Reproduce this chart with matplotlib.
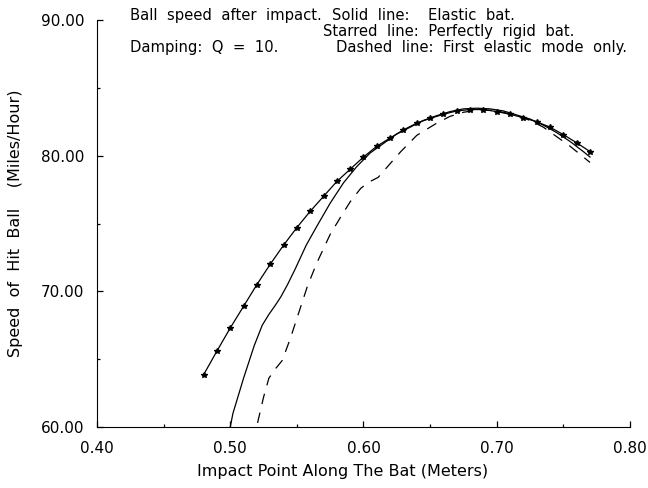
import matplotlib
matplotlib.use("Agg")
import matplotlib.pyplot as plt
from matplotlib.ticker import MultipleLocator, FormatStrFormatter

# Starred line: perfectly rigid bat
rigid_x = [0.48, 0.49, 0.50, 0.51, 0.52, 0.53, 0.54, 0.55, 0.56, 0.57,
           0.58, 0.59, 0.60, 0.61, 0.62, 0.63, 0.64, 0.65, 0.66, 0.67,
           0.68, 0.69, 0.70, 0.71, 0.72, 0.73, 0.74, 0.75, 0.76, 0.77]
rigid_y = [63.85, 65.6, 67.3, 68.9, 70.5, 72.0, 73.4, 74.7, 75.9, 77.0,
           78.1, 79.0, 79.9, 80.7, 81.3, 81.9, 82.4, 82.75, 83.05, 83.3,
           83.4, 83.4, 83.25, 83.05, 82.8, 82.5, 82.1, 81.55, 80.95, 80.3]

# Solid line: elastic bat
elastic_x = [0.500, 0.502, 0.510, 0.518, 0.524, 0.529, 0.534, 0.538, 0.543,
             0.549, 0.557, 0.565, 0.575, 0.585, 0.595, 0.605, 0.615, 0.625,
             0.635, 0.645, 0.655, 0.665, 0.675, 0.685, 0.695, 0.705, 0.715,
             0.725, 0.735, 0.745, 0.755, 0.765, 0.770]
elastic_y = [60.0, 61.0, 63.6, 66.0, 67.5, 68.3, 69.0, 69.6, 70.5,
             71.7, 73.4, 74.8, 76.5, 78.0, 79.2, 80.2, 80.9, 81.6,
             82.1, 82.6, 82.95, 83.25, 83.45, 83.5, 83.45, 83.3, 83.0,
             82.7, 82.25, 81.7, 81.05, 80.3, 79.9]

# Dashed line: first elastic mode only
mode1_x = [0.5205, 0.525, 0.529, 0.534, 0.539, 0.545, 0.553, 0.558, 0.565,
           0.575, 0.583, 0.590, 0.598, 0.605, 0.611, 0.619, 0.628, 0.640,
           0.655, 0.665, 0.675, 0.685, 0.695, 0.705, 0.715, 0.725, 0.735,
           0.745, 0.755, 0.765, 0.770]
mode1_y = [60.3, 62.2, 63.6, 64.3, 64.9, 66.5, 68.9, 70.4, 72.1,
           74.2, 75.5, 76.6, 77.6, 78.1, 78.4, 79.3, 80.3, 81.5,
           82.4, 82.9, 83.2, 83.35, 83.35, 83.2, 82.95, 82.6, 82.1,
           81.4, 80.7, 79.9, 79.5]

fig = plt.figure(figsize=(6.48, 4.88), dpi=100)
ax = fig.add_axes([0.1497, 0.125, 0.8225, 0.834])

ax.plot(rigid_x, rigid_y, color='black', lw=0.9, marker='*', ms=4)
ax.plot(elastic_x, elastic_y, color='black', lw=0.9)
ax.plot(mode1_x, mode1_y, color='black', lw=0.9, dashes=(8.5, 7))

ax.set_xlim(0.40, 0.80)
ax.set_ylim(60, 90)
ax.spines['top'].set_visible(False)
ax.spines['right'].set_visible(False)
ax.xaxis.set_major_locator(MultipleLocator(0.1))
ax.xaxis.set_minor_locator(MultipleLocator(0.05))
ax.yaxis.set_major_locator(MultipleLocator(10))
ax.yaxis.set_minor_locator(MultipleLocator(5))
ax.xaxis.set_major_formatter(FormatStrFormatter('%.2f'))
ax.yaxis.set_major_formatter(FormatStrFormatter('%.2f'))
ax.tick_params(which='major', direction='in', length=4, width=0.9, labelsize=11)
ax.tick_params(which='minor', direction='in', length=2.5, width=0.9)
ax.tick_params(axis='x', which='major', pad=10)
ax.tick_params(axis='y', which='major', pad=9)

ax.set_xlabel('Impact Point Along The Bat (Meters)', fontsize=11.5, labelpad=6, x=0.46)
ax.set_ylabel('Speed  of  Hit  Ball    (Miles/Hour)', fontsize=11.5, labelpad=13)

# header notes, placed in data coordinates
txt = dict(fontsize=10.6, va='center', ha='left')
ax.text(0.4248, 90.35, 'Ball  speed  after  impact.', **txt)
ax.text(0.5764, 90.35, 'Solid  line:', **txt)
ax.text(0.6484, 90.35, 'Elastic  bat.', **txt)
ax.text(0.5696, 89.12, 'Starred  line:  Perfectly  rigid  bat.', **txt)
ax.text(0.4248, 87.94, 'Damping:  Q  =  10.', **txt)
ax.text(0.5794, 87.94, 'Dashed  line:  First  elastic  mode  only.', **txt)

fig.savefig('out.png', dpi=100)
